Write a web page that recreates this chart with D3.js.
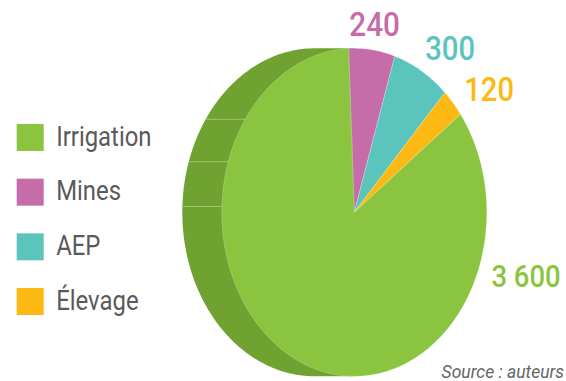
<!DOCTYPE html>
<html>
<head>
<meta charset="utf-8">
<script src="https://cdn.jsdelivr.net/npm/d3@7"></script>
<style>
  html, body { margin: 0; padding: 0; background: #fff; }
  svg { display: block; }
</style>
</head>
<body>
<svg id="chart" width="566" height="381"></svg>
<script>
// Water use by sector
const categories = ["Irrigation", "Mines", "AEP", "Élevage"];
const values = [3600, 240, 300, 120];
const colors = ["#8bc53f", "#c66ca9", "#5bc4bd", "#fdb913"];
const sideColor = "#70a232";
// drawing order of slices, clockwise from the top
const sliceOrder = ["Mines", "AEP", "Élevage", "Irrigation"];
// value labels: [angle in degrees from top, radius factor, font size]
const labelLayout = {
  "Mines": [-2.0, 1.074, 33.5],
  "AEP": [30.0, 1.071, 33],
  "Élevage": [50.8, 1.071, 33],
  "Irrigation": [113.8, 1.131, 31]
};

const svg = d3.select("#chart");
const cx = 354.3, cy = 212.3, rx = 132.5, ry = 164, depth = 39.5;
const squeeze = 0.885; // horizontal compression of the lettering
const startOffset = -2.5 * Math.PI / 180;

const fmt = d3.formatLocale({decimal: ",", thousands: "\u00a0", grouping: [3], currency: ["", " €"]}).format(",d");

const colorScale = d3.scaleOrdinal().domain(categories).range(colors);
const valueOf = new Map(categories.map((c, i) => [c, values[i]]));

const pie = d3.pie()
  .sort(null)
  .value(d => d.value)
  .startAngle(startOffset)
  .endAngle(startOffset + 2 * Math.PI);

const arcs = pie(sliceOrder.map(c => ({cat: c, value: valueOf.get(c)})));

// point on the tilted (elliptical) face, angle measured clockwise from top
const pt = (a, k = 1, ox = 0) => [ox + cx + k * rx * Math.sin(a), cy - k * ry * Math.cos(a)];

function slicePath(a0, a1, ox = 0) {
  const p = d3.path();
  p.moveTo(cx + ox, cy);
  const n = Math.max(2, Math.ceil((a1 - a0) / 0.02));
  for (let i = 0; i <= n; i++) {
    const a = a0 + (a1 - a0) * i / n;
    const [x, y] = pt(a, 1, ox);
    p.lineTo(x, y);
  }
  p.closePath();
  return p.toString();
}

// side wall: left half of the back ellipse joined to the face
const side = d3.path();
{
  const n = 200;
  for (let i = 0; i <= n; i++) {
    const a = -Math.PI * i / n;            // top -> left -> bottom
    const [x, y] = pt(a, 1, -depth);
    if (i === 0) side.moveTo(x, y); else side.lineTo(x, y);
  }
  side.lineTo(cx, cy + ry);
  side.lineTo(cx, cy - ry);
  side.closePath();
}
svg.append("path").attr("d", side.toString()).attr("fill", sideColor);

// faint segment lines on the side wall
const clip = svg.append("clipPath").attr("id", "sideClip");
clip.append("path").attr("d", side.toString());
const sideSegs = [119.3, 161.7, 206.5].map(y => (y - cy) / ry);
svg.append("g").attr("clip-path", "url(#sideClip)")
  .selectAll("line").data(sideSegs).join("line")
  .attr("x1", cx - rx - depth - 5).attr("x2", cx)
  .attr("y1", d => cy + d * ry).attr("y2", d => cy + d * ry)
  .attr("stroke", "#a9cf7c").attr("stroke-width", 1).attr("opacity", 0.8);

// face slices
svg.append("g").selectAll("path").data(arcs).join("path")
  .attr("d", d => slicePath(d.startAngle, d.endAngle))
  .attr("fill", d => colorScale(d.data.cat))
  .attr("stroke", "rgba(255,255,255,0.35)")
  .attr("stroke-width", 0.6)
  .attr("stroke-linejoin", "round");

// value labels
svg.append("g").selectAll("text").data(arcs).join("text")
  .attr("transform", d => {
    const [deg, k] = labelLayout[d.data.cat];
    const [x, y] = pt(deg * Math.PI / 180, k);
    return `translate(${x},${y}) scale(${squeeze},1)`;
  })
  .attr("font-family", "Roboto, 'Helvetica Neue', Arial, sans-serif")
  .attr("font-weight", 500)
  .attr("font-size", d => labelLayout[d.data.cat][2])
  .attr("fill", d => colorScale(d.data.cat))
  .text(d => fmt(d.data.value).replace(/\u00a0/g, " "));

// legend
const legendY = d3.scalePoint().domain(categories).range([137.5, 301.5]);
const legend = svg.append("g").selectAll("g").data(categories).join("g")
  .attr("transform", d => `translate(16.7,${legendY(d)})`);
legend.append("rect")
  .attr("x", 0).attr("y", -13.5).attr("width", 27).attr("height", 27)
  .attr("fill", d => colorScale(d));
legend.append("text")
  .attr("transform", "translate(39.5,8.3) scale(0.885,1)")
  .attr("font-family", "Roboto, 'Helvetica Neue', Arial, sans-serif")
  .attr("font-size", 27)
  .attr("fill", "#5a5a5a")
  .text(d => d);

// source note
svg.append("text")
  .attr("x", 564).attr("y", 377.5)
  .attr("text-anchor", "end")
  .attr("font-family", "Roboto, 'Helvetica Neue', Arial, sans-serif")
  .attr("font-style", "italic")
  .attr("font-size", 17.5)
  .attr("fill", "#666")
  .text("Source : auteurs");
</script>
</body>
</html>
